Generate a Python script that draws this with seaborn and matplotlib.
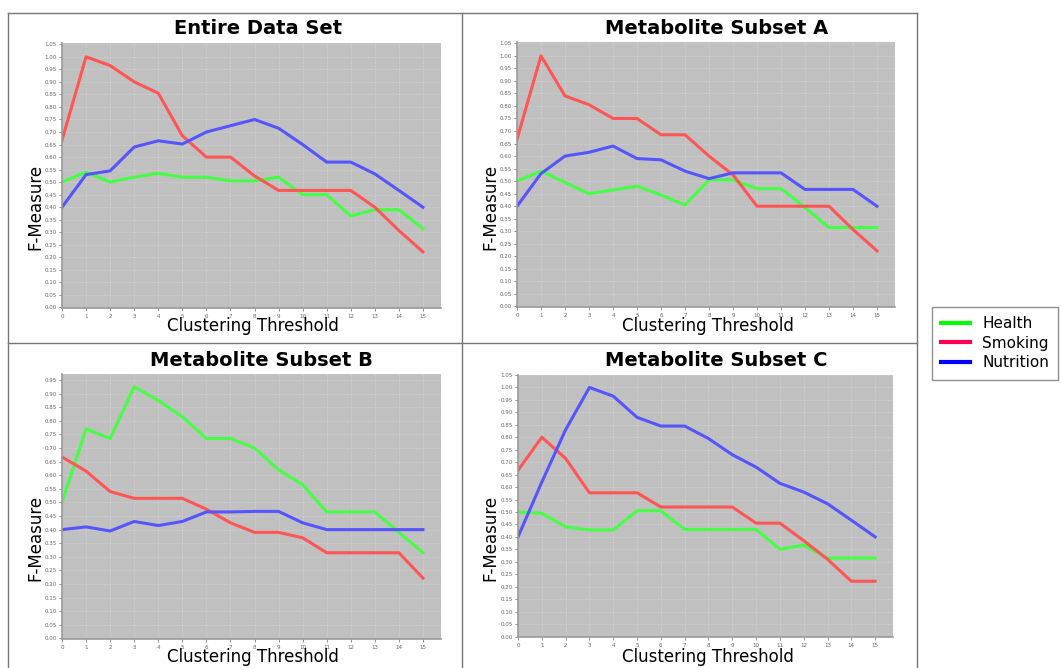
import matplotlib

matplotlib.use("Agg")
import matplotlib.pyplot as plt
import numpy as np
import pandas as pd
import seaborn as sns
from matplotlib.lines import Line2D
from matplotlib.ticker import FormatStrFormatter, MultipleLocator

thresholds = list(range(16))

# F-measure per series
entire_health = [0.50, 0.54, 0.50, 0.52, 0.535, 0.52, 0.52, 0.505, 0.505, 0.52, 0.45, 0.45, 0.365, 0.39, 0.39, 0.315]
entire_smoking = [0.667, 1.00, 0.965, 0.90, 0.855, 0.685, 0.60, 0.60, 0.525, 0.467, 0.467, 0.467, 0.467, 0.40, 0.307, 0.222]
entire_nutrition = [0.40, 0.53, 0.545, 0.64, 0.665, 0.652, 0.70, 0.725, 0.75, 0.715, 0.65, 0.58, 0.58, 0.533, 0.467, 0.40]

a_health = [0.50, 0.54, 0.495, 0.45, 0.465, 0.48, 0.445, 0.405, 0.505, 0.505, 0.47, 0.47, 0.395, 0.315, 0.315, 0.315]
a_smoking = [0.667, 1.00, 0.84, 0.805, 0.75, 0.75, 0.685, 0.685, 0.60, 0.525, 0.40, 0.40, 0.40, 0.40, 0.307, 0.222]
a_nutrition = [0.40, 0.53, 0.60, 0.615, 0.64, 0.59, 0.585, 0.54, 0.51, 0.533, 0.533, 0.533, 0.467, 0.467, 0.467, 0.40]

b_health = [0.50, 0.77, 0.735, 0.925, 0.875, 0.815, 0.735, 0.735, 0.70, 0.62, 0.565, 0.465, 0.465, 0.465, 0.39, 0.315]
b_smoking = [0.667, 0.615, 0.54, 0.515, 0.515, 0.515, 0.475, 0.425, 0.39, 0.39, 0.37, 0.315, 0.315, 0.315, 0.315, 0.222]
b_nutrition = [0.40, 0.41, 0.395, 0.43, 0.415, 0.43, 0.465, 0.465, 0.467, 0.467, 0.425, 0.40, 0.40, 0.40, 0.40, 0.40]

c_health = [0.50, 0.495, 0.44, 0.428, 0.428, 0.505, 0.505, 0.43, 0.43, 0.43, 0.43, 0.35, 0.367, 0.315, 0.315, 0.315]
c_smoking = [0.667, 0.80, 0.715, 0.577, 0.577, 0.577, 0.52, 0.52, 0.52, 0.52, 0.455, 0.455, 0.385, 0.31, 0.222, 0.222]
c_nutrition = [0.40, 0.62, 0.83, 1.00, 0.965, 0.88, 0.845, 0.845, 0.795, 0.73, 0.68, 0.615, 0.58, 0.533, 0.467, 0.40]

series_names = ["Health", "Smoking", "Nutrition"]
line_colors = {"Health": "#44ff44", "Smoking": "#ff5555", "Nutrition": "#5555ff"}
legend_colors = ["#00ff00", "#ff0050", "#0000ff"]

W, H = 1061, 668


def px_axes(fig, left, right, top, bottom):
    return fig.add_axes([left / W, 1 - bottom / H, (right - left) / W, (bottom - top) / H])


def draw_panel(ax, health, smoking, nutrition, ymax):
    df = pd.DataFrame({"threshold": thresholds, "Health": health, "Smoking": smoking, "Nutrition": nutrition})
    long_df = df.melt(id_vars="threshold", var_name="series", value_name="fmeasure")
    sns.lineplot(
        data=long_df,
        x="threshold",
        y="fmeasure",
        hue="series",
        hue_order=series_names,
        palette=line_colors,
        linewidth=2.2,
        legend=False,
        ax=ax,
    )
    ax.set_facecolor("#c0c0c0")
    ax.set_xlim(0, 15.75)
    ax.set_ylim(-0.002, ymax)
    ax.xaxis.set_major_locator(MultipleLocator(1))
    ax.yaxis.set_major_locator(MultipleLocator(0.05))
    ax.yaxis.set_major_formatter(FormatStrFormatter("%.2f"))
    ax.grid(True, color="#e4e4e4", linestyle=(0, (2, 2)), linewidth=0.5, alpha=0.6)
    ax.set_axisbelow(True)
    ax.tick_params(labelsize=4, colors="#666666", length=2, width=0.5, pad=2)
    for side in ["top", "right"]:
        ax.spines[side].set_visible(False)
    for side in ["left", "bottom"]:
        ax.spines[side].set_color("#999999")
        ax.spines[side].set_linewidth(1.2)
    ax.set_xlabel("")
    ax.set_ylabel("")


fig = plt.figure(figsize=(W / 100, H / 100), dpi=100)

panels = [
    ("Entire Data Set", entire_health, entire_smoking, entire_nutrition, 1.055, (62, 441, 43, 308), (258, 28), (35, 207), (253, 326)),
    ("Metabolite Subset A", a_health, a_smoking, a_nutrition, 1.055, (517, 895, 42, 307), (717, 28), (490, 207), (708, 326)),
    ("Metabolite Subset B", b_health, b_smoking, b_nutrition, 0.972, (62, 441, 374, 639), (261, 360), (35, 538), (253, 657)),
    ("Metabolite Subset C", c_health, c_smoking, c_nutrition, 1.05, (518, 893, 375, 637), (716, 360), (490, 538), (708, 657)),
]

for title, hv, sv, nv, ymax, box, tpos, ypos, xpos in panels:
    ax = px_axes(fig, *box)
    draw_panel(ax, hv, sv, nv, ymax)
    fig.text(tpos[0] / W, 1 - tpos[1] / H, title, ha="center", va="center", fontsize=14, fontweight="bold")
    fig.text(ypos[0] / W, 1 - ypos[1] / H, "F-Measure", ha="center", va="center", rotation=90, fontsize=12)
    fig.text(xpos[0] / W, 1 - xpos[1] / H, "Clustering Threshold", ha="center", va="center", fontsize=12)

# cell borders around the four panels
border = dict(color="#777777", linewidth=1)
for x in [8, 462, 917]:
    fig.add_artist(Line2D([x / W, x / W], [0, 1 - 13 / H], transform=fig.transFigure, **border))
for y in [13, 343]:
    fig.add_artist(Line2D([8 / W, 917 / W], [1 - y / H, 1 - y / H], transform=fig.transFigure, **border))

handles = [Line2D([0], [0], color=c, linewidth=3) for c in legend_colors]
leg = fig.legend(
    handles,
    series_names,
    loc="upper left",
    bbox_to_anchor=(932 / W, 1 - 307 / H),
    borderaxespad=0,
    fontsize=11,
    frameon=True,
    fancybox=False,
    edgecolor="#777777",
    handlelength=1.9,
    labelspacing=0.3,
    borderpad=0.6,
)
leg.get_frame().set_linewidth(1)

fig.savefig("out.png", dpi=100)
